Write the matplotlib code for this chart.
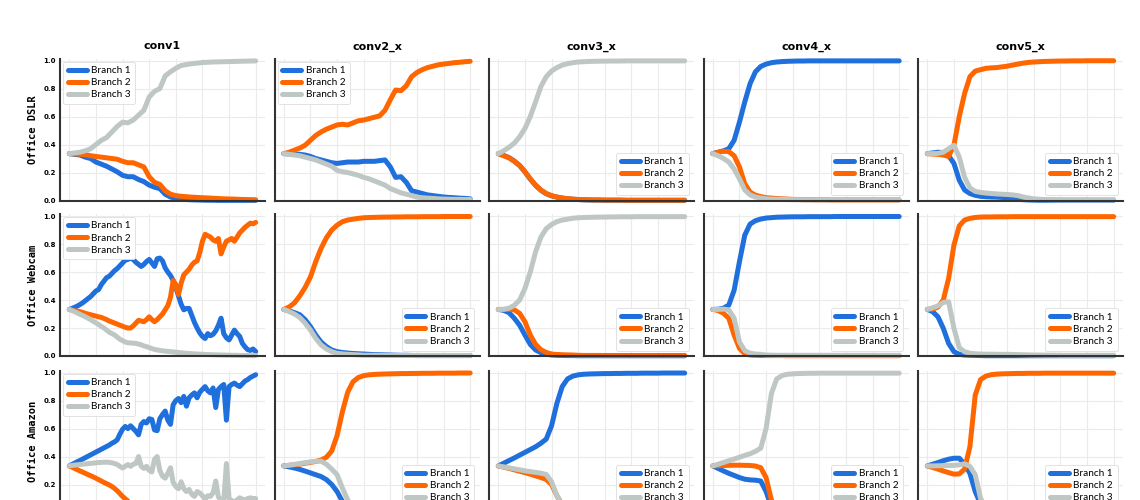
import numpy as np
import matplotlib
matplotlib.use("Agg")
import matplotlib.pyplot as plt

# branch weights over training.
# every series runs from x=0 to x=70, values sampled evenly along it.

# ---- Office DSLR ----
dslr_conv1_b1 = [0.335, 0.33, 0.325, 0.31, 0.30, 0.275, 0.26, 0.245, 0.225, 0.205,
                 0.18, 0.17, 0.17, 0.15, 0.135, 0.11, 0.095, 0.085, 0.045, 0.025,
                 0.015, 0.01, 0.007, 0.005, 0.004, 0.003, 0.002, 0.002, 0.001, 0.001,
                 0.001, 0.001, 0.001, 0.001, 0.001, 0.001]
dslr_conv1_b2 = [0.335, 0.333, 0.33, 0.328, 0.32, 0.315, 0.31, 0.305, 0.30, 0.295,
                 0.28, 0.27, 0.27, 0.255, 0.24, 0.17, 0.13, 0.115, 0.07, 0.045,
                 0.035, 0.03, 0.027, 0.024, 0.022, 0.02, 0.018, 0.016, 0.014, 0.012,
                 0.011, 0.01, 0.008, 0.007, 0.006, 0.005]
dslr_conv1_b3 = [0.335, 0.34, 0.345, 0.355, 0.37, 0.40, 0.43, 0.45, 0.49, 0.53,
                 0.56, 0.555, 0.575, 0.61, 0.645, 0.74, 0.78, 0.80, 0.89, 0.92,
                 0.945, 0.965, 0.972, 0.978, 0.982, 0.986, 0.988, 0.99, 0.991, 0.992,
                 0.993, 0.994, 0.995, 0.996, 0.997, 0.998]

dslr_conv2_b1 = [0.335, 0.333, 0.33, 0.33, 0.325, 0.315, 0.30, 0.29, 0.28, 0.27,
                 0.265, 0.27, 0.275, 0.275, 0.275, 0.28, 0.28, 0.28, 0.285, 0.29,
                 0.24, 0.165, 0.17, 0.13, 0.07, 0.06, 0.05, 0.04, 0.035, 0.03,
                 0.025, 0.022, 0.02, 0.017, 0.015, 0.012]
dslr_conv2_b2 = [0.335, 0.345, 0.36, 0.375, 0.395, 0.43, 0.465, 0.49, 0.51, 0.525,
                 0.54, 0.545, 0.54, 0.555, 0.57, 0.575, 0.585, 0.595, 0.605, 0.645,
                 0.72, 0.79, 0.785, 0.82, 0.885, 0.915, 0.935, 0.95, 0.96, 0.97,
                 0.975, 0.98, 0.985, 0.988, 0.992, 0.995]
dslr_conv2_b3 = [0.335, 0.33, 0.325, 0.32, 0.31, 0.30, 0.29, 0.275, 0.26, 0.245,
                 0.215, 0.205, 0.20, 0.19, 0.18, 0.165, 0.155, 0.14, 0.125, 0.11,
                 0.085, 0.07, 0.055, 0.045, 0.035, 0.025, 0.02, 0.017, 0.015, 0.012,
                 0.01, 0.009, 0.008, 0.008, 0.007, 0.007]

dslr_conv3_b1 = [0.335, 0.322, 0.307, 0.282, 0.25, 0.205, 0.153, 0.108, 0.073, 0.048,
                 0.033, 0.024, 0.017, 0.012, 0.009, 0.007, 0.005, 0.004, 0.003, 0.003,
                 0.002, 0.002, 0.002, 0.002, 0.001, 0.001, 0.001, 0.001, 0.001, 0.001,
                 0.001, 0.001, 0.001, 0.001, 0.001, 0.001]
dslr_conv3_b2 = [0.335, 0.32, 0.305, 0.28, 0.25, 0.205, 0.155, 0.11, 0.075, 0.05,
                 0.035, 0.025, 0.018, 0.013, 0.01, 0.007, 0.006, 0.005, 0.004, 0.004,
                 0.003, 0.003, 0.003, 0.003, 0.002, 0.002, 0.002, 0.002, 0.002, 0.002,
                 0.002, 0.002, 0.002, 0.002, 0.002, 0.002]
dslr_conv3_b3 = [0.335, 0.355, 0.38, 0.41, 0.455, 0.515, 0.60, 0.705, 0.815, 0.885,
                 0.925, 0.95, 0.968, 0.978, 0.985, 0.99, 0.992, 0.994, 0.995, 0.996,
                 0.996, 0.997, 0.997, 0.997, 0.998, 0.998, 0.998, 0.998, 0.998, 0.998,
                 0.998, 0.998, 0.998, 0.998, 0.998, 0.998]

dslr_conv4_b1 = [0.335, 0.345, 0.355, 0.37, 0.43, 0.56, 0.705, 0.835, 0.92, 0.958,
                 0.975, 0.985, 0.99, 0.993, 0.995, 0.996, 0.997, 0.997, 0.998, 0.998,
                 0.998, 0.998, 0.998, 0.998, 0.998, 0.998, 0.998, 0.998, 0.998, 0.998,
                 0.998, 0.998, 0.998, 0.998, 0.998, 0.998]
dslr_conv4_b2 = [0.335, 0.345, 0.352, 0.35, 0.32, 0.24, 0.12, 0.06, 0.038, 0.028,
                 0.02, 0.017, 0.014, 0.012, 0.01, 0.008, 0.007, 0.006, 0.006, 0.005,
                 0.005, 0.005, 0.004, 0.004, 0.004, 0.004, 0.004, 0.004, 0.004, 0.004,
                 0.004, 0.004, 0.004, 0.004, 0.004, 0.004]
dslr_conv4_b3 = [0.335, 0.32, 0.30, 0.275, 0.225, 0.155, 0.075, 0.04, 0.025, 0.018,
                 0.012, 0.01, 0.009, 0.008, 0.007, 0.006, 0.006, 0.005, 0.005, 0.005,
                 0.005, 0.005, 0.005, 0.005, 0.005, 0.005, 0.005, 0.005, 0.005, 0.005,
                 0.005, 0.005, 0.005, 0.005, 0.005, 0.005]

dslr_conv5_b1 = [0.335, 0.34, 0.345, 0.343, 0.32, 0.265, 0.145, 0.075, 0.05, 0.037,
                 0.03, 0.027, 0.025, 0.024, 0.022, 0.02, 0.015, 0.009, 0.006, 0.004,
                 0.003, 0.002, 0.002, 0.002, 0.002, 0.002, 0.002, 0.002, 0.002, 0.002,
                 0.002, 0.002, 0.002, 0.002, 0.002, 0.002]
dslr_conv5_b2 = [0.335, 0.332, 0.33, 0.325, 0.315, 0.395, 0.60, 0.765, 0.885, 0.925,
                 0.935, 0.945, 0.948, 0.95, 0.955, 0.96, 0.968, 0.975, 0.982, 0.987,
                 0.99, 0.992, 0.994, 0.995, 0.996, 0.997, 0.997, 0.998, 0.998, 0.998,
                 0.999, 0.999, 0.999, 0.999, 0.999, 0.999]
dslr_conv5_b3 = [0.335, 0.335, 0.337, 0.345, 0.37, 0.395, 0.31, 0.165, 0.09, 0.065,
                 0.058, 0.053, 0.05, 0.047, 0.045, 0.043, 0.04, 0.035, 0.025, 0.018,
                 0.012, 0.009, 0.007, 0.006, 0.005, 0.004, 0.004, 0.004, 0.004, 0.004,
                 0.004, 0.004, 0.004, 0.004, 0.004, 0.004]

# ---- Office Webcam ----
webcam_conv1_b1 = [0.333, 0.34, 0.348, 0.357, 0.368, 0.38, 0.395, 0.41, 0.425, 0.445,
                   0.465, 0.475, 0.51, 0.535, 0.56, 0.57, 0.59, 0.61, 0.625, 0.645,
                   0.665, 0.685, 0.69, 0.70, 0.69, 0.67, 0.655, 0.64, 0.655, 0.675,
                   0.69, 0.665, 0.64, 0.695, 0.70, 0.68, 0.63, 0.60, 0.575, 0.54,
                   0.49, 0.43, 0.37, 0.33, 0.34, 0.34, 0.29, 0.24, 0.20, 0.165,
                   0.14, 0.125, 0.16, 0.145, 0.155, 0.18, 0.22, 0.27, 0.16, 0.13,
                   0.115, 0.15, 0.185, 0.16, 0.14, 0.09, 0.065, 0.045, 0.04, 0.05,
                   0.032]
webcam_conv1_b2 = [0.333, 0.328, 0.323, 0.32, 0.317, 0.312, 0.305, 0.30, 0.295, 0.29,
                   0.285, 0.28, 0.276, 0.268, 0.26, 0.25, 0.243, 0.235, 0.228, 0.22,
                   0.213, 0.205, 0.20, 0.20, 0.215, 0.235, 0.255, 0.25, 0.245, 0.26,
                   0.28, 0.26, 0.245, 0.26, 0.28, 0.30, 0.33, 0.36, 0.42, 0.54,
                   0.51, 0.44, 0.52, 0.58, 0.60, 0.62, 0.65, 0.67, 0.68, 0.74,
                   0.82, 0.87, 0.86, 0.85, 0.83, 0.82, 0.84, 0.73, 0.78, 0.82,
                   0.83, 0.84, 0.82, 0.85, 0.88, 0.90, 0.92, 0.935, 0.95, 0.945,
                   0.955]
webcam_conv1_b3 = [0.333, 0.325, 0.317, 0.308, 0.298, 0.29, 0.28, 0.27, 0.26, 0.248,
                   0.237, 0.225, 0.212, 0.20, 0.185, 0.17, 0.16, 0.15, 0.135, 0.12,
                   0.11, 0.10, 0.095, 0.093, 0.092, 0.09, 0.085, 0.08, 0.072, 0.067,
                   0.06, 0.053, 0.047, 0.043, 0.04, 0.037, 0.035, 0.033, 0.031, 0.029,
                   0.027, 0.025, 0.023, 0.021, 0.019, 0.018, 0.017, 0.015, 0.014, 0.013,
                   0.012, 0.011, 0.01, 0.01, 0.009, 0.008, 0.008, 0.007, 0.007, 0.006,
                   0.006, 0.005, 0.005, 0.005, 0.004, 0.004, 0.004, 0.003, 0.003, 0.003,
                   0.003]

webcam_conv2_b1 = [0.333, 0.322, 0.31, 0.295, 0.26, 0.21, 0.15, 0.10, 0.067, 0.043,
                   0.031, 0.025, 0.021, 0.018, 0.016, 0.014, 0.012, 0.01, 0.009, 0.008,
                   0.007, 0.006, 0.005, 0.005, 0.004, 0.003, 0.003, 0.003, 0.003, 0.003,
                   0.003, 0.003, 0.003, 0.003, 0.003, 0.003]
webcam_conv2_b2 = [0.333, 0.35, 0.38, 0.43, 0.49, 0.565, 0.675, 0.77, 0.845, 0.90,
                   0.935, 0.96, 0.972, 0.978, 0.984, 0.988, 0.99, 0.991, 0.992, 0.993,
                   0.993, 0.994, 0.994, 0.995, 0.995, 0.995, 0.996, 0.996, 0.996, 0.996,
                   0.997, 0.997, 0.997, 0.997, 0.997, 0.997]
webcam_conv2_b3 = [0.333, 0.318, 0.30, 0.275, 0.235, 0.186, 0.126, 0.079, 0.05, 0.031,
                   0.019, 0.015, 0.012, 0.01, 0.008, 0.005, 0.005, 0.005, 0.004, 0.004,
                   0.004, 0.004, 0.004, 0.004, 0.004, 0.004, 0.004, 0.004, 0.004, 0.004,
                   0.004, 0.004, 0.004, 0.004, 0.004, 0.004]

webcam_conv3_b1 = [0.333, 0.326, 0.31, 0.27, 0.22, 0.15, 0.083, 0.043, 0.024, 0.013,
                   0.007, 0.005, 0.004, 0.003, 0.003, 0.002, 0.002, 0.002, 0.002, 0.002,
                   0.002, 0.002, 0.002, 0.002, 0.002, 0.002, 0.002, 0.002, 0.002, 0.002,
                   0.002, 0.002, 0.002, 0.002, 0.002, 0.002]
webcam_conv3_b2 = [0.333, 0.332, 0.334, 0.33, 0.305, 0.245, 0.15, 0.083, 0.045, 0.025,
                   0.014, 0.011, 0.009, 0.008, 0.007, 0.005, 0.004, 0.004, 0.004, 0.004,
                   0.003, 0.003, 0.003, 0.003, 0.003, 0.003, 0.003, 0.003, 0.003, 0.003,
                   0.003, 0.003, 0.003, 0.003, 0.003, 0.003]
webcam_conv3_b3 = [0.333, 0.334, 0.342, 0.362, 0.40, 0.483, 0.60, 0.745, 0.85, 0.91,
                   0.94, 0.96, 0.972, 0.978, 0.985, 0.988, 0.99, 0.991, 0.992, 0.993,
                   0.993, 0.994, 0.994, 0.995, 0.995, 0.995, 0.996, 0.996, 0.996, 0.996,
                   0.996, 0.996, 0.996, 0.996, 0.996, 0.996]

webcam_conv4_b1 = [0.333, 0.334, 0.342, 0.364, 0.47, 0.674, 0.864, 0.943, 0.967, 0.979,
                   0.986, 0.989, 0.992, 0.993, 0.994, 0.995, 0.995, 0.995, 0.996, 0.996,
                   0.996, 0.996, 0.996, 0.997, 0.997, 0.997, 0.997, 0.997, 0.997, 0.997,
                   0.997, 0.997, 0.997, 0.997, 0.997, 0.997]
webcam_conv4_b2 = [0.333, 0.325, 0.305, 0.27, 0.15, 0.055, 0.017, 0.007, 0.005, 0.004,
                   0.003, 0.003, 0.003, 0.003, 0.002, 0.002, 0.002, 0.002, 0.002, 0.002,
                   0.002, 0.002, 0.002, 0.002, 0.002, 0.002, 0.002, 0.002, 0.002, 0.002,
                   0.002, 0.002, 0.002, 0.002, 0.002, 0.002]
webcam_conv4_b3 = [0.333, 0.333, 0.335, 0.33, 0.27, 0.10, 0.038, 0.02, 0.014, 0.012,
                   0.007, 0.006, 0.005, 0.005, 0.005, 0.005, 0.005, 0.005, 0.005, 0.005,
                   0.005, 0.005, 0.005, 0.005, 0.005, 0.005, 0.005, 0.005, 0.005, 0.005,
                   0.005, 0.005, 0.005, 0.005, 0.005, 0.005]

webcam_conv5_b1 = [0.333, 0.317, 0.28, 0.198, 0.09, 0.031, 0.012, 0.007, 0.005, 0.004,
                   0.003, 0.002, 0.002, 0.002, 0.002, 0.002, 0.002, 0.002, 0.002, 0.002,
                   0.002, 0.002, 0.002, 0.002, 0.002, 0.002, 0.002, 0.002, 0.002, 0.002,
                   0.002, 0.002, 0.002, 0.002, 0.002, 0.002]
webcam_conv5_b2 = [0.333, 0.335, 0.35, 0.40, 0.555, 0.793, 0.93, 0.972, 0.984, 0.99,
                   0.993, 0.994, 0.994, 0.995, 0.995, 0.995, 0.996, 0.996, 0.996, 0.996,
                   0.996, 0.996, 0.996, 0.996, 0.996, 0.996, 0.996, 0.996, 0.996, 0.996,
                   0.996, 0.996, 0.996, 0.996, 0.996, 0.996]
webcam_conv5_b3 = [0.333, 0.345, 0.358, 0.383, 0.388, 0.198, 0.06, 0.03, 0.02, 0.016,
                   0.014, 0.013, 0.013, 0.012, 0.012, 0.012, 0.011, 0.01, 0.009, 0.008,
                   0.007, 0.007, 0.006, 0.006, 0.006, 0.005, 0.005, 0.005, 0.005, 0.005,
                   0.005, 0.005, 0.005, 0.005, 0.005, 0.005]

# ---- Office Amazon ----
amazon_conv1_b1 = [0.333, 0.343, 0.353, 0.363, 0.372, 0.382, 0.392, 0.402, 0.412, 0.422,
                   0.432, 0.442, 0.452, 0.462, 0.472, 0.482, 0.495, 0.505, 0.52, 0.56,
                   0.595, 0.615, 0.60, 0.62, 0.60, 0.58, 0.555, 0.63, 0.65, 0.64,
                   0.67, 0.665, 0.59, 0.585, 0.67, 0.70, 0.725, 0.66, 0.63, 0.77,
                   0.80, 0.815, 0.785, 0.83, 0.76, 0.82, 0.84, 0.855, 0.82, 0.86,
                   0.88, 0.90, 0.87, 0.855, 0.89, 0.75, 0.88, 0.90, 0.915, 0.66,
                   0.90, 0.915, 0.925, 0.91, 0.90, 0.92, 0.94, 0.95, 0.965, 0.975,
                   0.985]
amazon_conv1_b2 = [0.333, 0.324, 0.315, 0.306, 0.297, 0.289, 0.28, 0.271, 0.263, 0.254,
                   0.245, 0.235, 0.225, 0.215, 0.206, 0.197, 0.186, 0.172, 0.155, 0.135,
                   0.115, 0.098, 0.082, 0.072, 0.064, 0.057, 0.052, 0.047, 0.043, 0.04,
                   0.037, 0.035, 0.033, 0.031, 0.029, 0.027, 0.026, 0.025, 0.024, 0.022,
                   0.021, 0.02, 0.019, 0.018, 0.017, 0.016, 0.015, 0.015, 0.014, 0.013,
                   0.013, 0.012, 0.012, 0.011, 0.011, 0.01, 0.01, 0.01, 0.009, 0.009,
                   0.009, 0.008, 0.008, 0.008, 0.007, 0.007, 0.007, 0.006, 0.006, 0.006,
                   0.005]
amazon_conv1_b3 = [0.333, 0.336, 0.339, 0.341, 0.343, 0.345, 0.347, 0.349, 0.351, 0.353,
                   0.355, 0.357, 0.358, 0.359, 0.36, 0.358, 0.355, 0.35, 0.343, 0.33,
                   0.318, 0.33, 0.343, 0.33, 0.345, 0.35, 0.40, 0.33, 0.315, 0.33,
                   0.30, 0.29, 0.38, 0.40, 0.30, 0.26, 0.245, 0.28, 0.32, 0.215,
                   0.185, 0.17, 0.22, 0.17, 0.15, 0.165, 0.13, 0.115, 0.15, 0.14,
                   0.12, 0.095, 0.12, 0.115, 0.14, 0.225, 0.11, 0.09, 0.08, 0.35,
                   0.10, 0.085, 0.075, 0.09, 0.105, 0.095, 0.09, 0.10, 0.105, 0.10,
                   0.10]

amazon_conv2_b1 = [0.333, 0.326, 0.318, 0.308, 0.296, 0.283, 0.27, 0.257, 0.235, 0.20,
                   0.15, 0.08, 0.035, 0.018, 0.01, 0.007, 0.005, 0.004, 0.003, 0.003,
                   0.003, 0.003, 0.003, 0.003, 0.003, 0.003, 0.003, 0.003, 0.003, 0.003,
                   0.003, 0.003, 0.003, 0.003, 0.003, 0.003]
amazon_conv2_b2 = [0.333, 0.337, 0.341, 0.346, 0.352, 0.358, 0.365, 0.375, 0.395, 0.44,
                   0.55, 0.72, 0.86, 0.935, 0.965, 0.978, 0.984, 0.987, 0.989, 0.99,
                   0.991, 0.992, 0.993, 0.993, 0.994, 0.994, 0.995, 0.995, 0.995, 0.996,
                   0.996, 0.996, 0.996, 0.997, 0.997, 0.997]
amazon_conv2_b3 = [0.333, 0.338, 0.344, 0.35, 0.356, 0.362, 0.366, 0.367, 0.345, 0.31,
                   0.27, 0.175, 0.09, 0.04, 0.02, 0.013, 0.01, 0.008, 0.007, 0.006,
                   0.006, 0.005, 0.005, 0.005, 0.005, 0.005, 0.005, 0.005, 0.005, 0.005,
                   0.005, 0.005, 0.005, 0.005, 0.005, 0.005]

amazon_conv3_b1 = [0.333, 0.352, 0.371, 0.39, 0.41, 0.43, 0.45, 0.47, 0.495, 0.525,
                   0.62, 0.78, 0.90, 0.955, 0.975, 0.984, 0.988, 0.99, 0.991, 0.992,
                   0.993, 0.993, 0.994, 0.994, 0.995, 0.995, 0.995, 0.996, 0.996, 0.996,
                   0.996, 0.997, 0.997, 0.997, 0.997, 0.997]
amazon_conv3_b2 = [0.333, 0.324, 0.315, 0.305, 0.295, 0.285, 0.274, 0.262, 0.25, 0.236,
                   0.20, 0.12, 0.055, 0.025, 0.013, 0.008, 0.006, 0.005, 0.004, 0.003,
                   0.003, 0.003, 0.003, 0.003, 0.003, 0.003, 0.003, 0.003, 0.003, 0.003,
                   0.003, 0.003, 0.003, 0.003, 0.003, 0.003]
amazon_conv3_b3 = [0.333, 0.326, 0.319, 0.312, 0.305, 0.298, 0.292, 0.287, 0.281, 0.272,
                   0.22, 0.12, 0.05, 0.025, 0.015, 0.01, 0.008, 0.007, 0.006, 0.005,
                   0.005, 0.005, 0.005, 0.005, 0.005, 0.005, 0.005, 0.005, 0.005, 0.005,
                   0.005, 0.005, 0.005, 0.005, 0.005, 0.005]

amazon_conv4_b1 = [0.333, 0.315, 0.297, 0.28, 0.265, 0.25, 0.238, 0.233, 0.231, 0.225,
                   0.15, 0.04, 0.015, 0.008, 0.005, 0.004, 0.003, 0.003, 0.003, 0.003,
                   0.003, 0.003, 0.003, 0.003, 0.003, 0.003, 0.003, 0.003, 0.003, 0.003,
                   0.003, 0.003, 0.003, 0.003, 0.003, 0.003]
amazon_conv4_b2 = [0.333, 0.335, 0.336, 0.337, 0.338, 0.338, 0.337, 0.336, 0.332, 0.32,
                   0.25, 0.09, 0.03, 0.013, 0.007, 0.005, 0.004, 0.003, 0.003, 0.003,
                   0.003, 0.003, 0.003, 0.003, 0.003, 0.003, 0.003, 0.003, 0.003, 0.003,
                   0.003, 0.003, 0.003, 0.003, 0.003, 0.003]
amazon_conv4_b3 = [0.333, 0.345, 0.357, 0.37, 0.382, 0.395, 0.408, 0.42, 0.437, 0.46,
                   0.60, 0.85, 0.955, 0.979, 0.988, 0.991, 0.993, 0.994, 0.995, 0.995,
                   0.996, 0.996, 0.996, 0.996, 0.996, 0.996, 0.996, 0.996, 0.996, 0.996,
                   0.996, 0.996, 0.996, 0.996, 0.996, 0.996]

amazon_conv5_b1 = [0.333, 0.345, 0.357, 0.37, 0.381, 0.388, 0.388, 0.345, 0.28, 0.15,
                   0.06, 0.025, 0.012, 0.008, 0.005, 0.004, 0.003, 0.003, 0.003, 0.003,
                   0.003, 0.003, 0.003, 0.003, 0.003, 0.003, 0.003, 0.003, 0.003, 0.003,
                   0.003, 0.003, 0.003, 0.003, 0.003, 0.003]
amazon_conv5_b2 = [0.333, 0.322, 0.31, 0.297, 0.285, 0.274, 0.276, 0.31, 0.47, 0.84,
                   0.95, 0.975, 0.985, 0.989, 0.991, 0.992, 0.993, 0.994, 0.994, 0.995,
                   0.995, 0.995, 0.996, 0.996, 0.996, 0.996, 0.996, 0.996, 0.996, 0.996,
                   0.996, 0.996, 0.996, 0.996, 0.996, 0.996]
amazon_conv5_b3 = [0.333, 0.333, 0.334, 0.335, 0.336, 0.337, 0.34, 0.348, 0.33, 0.27,
                   0.10, 0.035, 0.015, 0.01, 0.008, 0.006, 0.005, 0.005, 0.005, 0.005,
                   0.005, 0.005, 0.005, 0.005, 0.005, 0.005, 0.005, 0.005, 0.005, 0.005,
                   0.005, 0.005, 0.005, 0.005, 0.005, 0.005]

row_names = ["Office DSLR", "Office Webcam", "Office Amazon"]
col_names = ["conv1", "conv2_x", "conv3_x", "conv4_x", "conv5_x"]
branch_names = ["Branch 1", "Branch 2", "Branch 3"]
colors = ["#1f6fdc", "#ff6600", "#bfc7c4"]

panels = [
    [(dslr_conv1_b1, dslr_conv1_b2, dslr_conv1_b3),
     (dslr_conv2_b1, dslr_conv2_b2, dslr_conv2_b3),
     (dslr_conv3_b1, dslr_conv3_b2, dslr_conv3_b3),
     (dslr_conv4_b1, dslr_conv4_b2, dslr_conv4_b3),
     (dslr_conv5_b1, dslr_conv5_b2, dslr_conv5_b3)],
    [(webcam_conv1_b1, webcam_conv1_b2, webcam_conv1_b3),
     (webcam_conv2_b1, webcam_conv2_b2, webcam_conv2_b3),
     (webcam_conv3_b1, webcam_conv3_b2, webcam_conv3_b3),
     (webcam_conv4_b1, webcam_conv4_b2, webcam_conv4_b3),
     (webcam_conv5_b1, webcam_conv5_b2, webcam_conv5_b3)],
    [(amazon_conv1_b1, amazon_conv1_b2, amazon_conv1_b3),
     (amazon_conv2_b1, amazon_conv2_b2, amazon_conv2_b3),
     (amazon_conv3_b1, amazon_conv3_b2, amazon_conv3_b3),
     (amazon_conv4_b1, amazon_conv4_b2, amazon_conv4_b3),
     (amazon_conv5_b1, amazon_conv5_b2, amazon_conv5_b3)],
]
legend_loc = [
    ["upper left", "upper left", "lower right", "lower right", "lower right"],
    ["upper left", "lower right", "lower right", "lower right", "lower right"],
    ["upper left", "lower right", "lower right", "lower right", "lower right"],
]

# layout in pixels (figure is 1140 x 500, third row runs off the bottom)
W, H = 1140.0, 500.0
lefts = [60, 274.5, 489, 703.5, 918]
bottoms = [200.5, 356, 512.5]
ax_w, ax_h = 205, 142

fig = plt.figure(figsize=(11.4, 5), dpi=100)

for i in range(3):
    for j in range(5):
        ax = fig.add_axes([lefts[j] / W, (H - bottoms[i]) / H, ax_w / W, ax_h / H])
        for k in range(3):
            y = np.array(panels[i][j][k])
            x = np.linspace(0, 70, len(y))
            ax.plot(x, y, color=colors[k], lw=3.6, solid_capstyle="round",
                    label=branch_names[k], clip_on=False)
        ax.set_ylim(0, 1.015)
        ax.set_xticks(np.arange(0, 71, 10))
        ax.set_yticks([0, 0.2, 0.4, 0.6, 0.8, 1.0])
        ax.grid(True, color="#ebebeb", lw=0.8)
        ax.set_axisbelow(True)
        ax.tick_params(length=0, labelbottom=False, labelsize=5, pad=3)
        for lab in ax.get_yticklabels():
            lab.set_fontweight("bold")
        ax.spines["top"].set_visible(False)
        ax.spines["right"].set_visible(False)
        ax.spines["left"].set_color("#333333")
        ax.spines["bottom"].set_color("#333333")
        ax.spines["left"].set_linewidth(1.5)
        ax.spines["bottom"].set_linewidth(1.5)
        if j == 0:
            ax.set_ylabel(row_names[i], family="DejaVu Sans Mono", fontweight="bold",
                          fontsize=7.5, labelpad=4)
        else:
            ax.tick_params(labelleft=False)
        if i == 0:
            ax.set_title(col_names[j], fontsize=8, fontweight="bold", pad=6.5)
        pad = 0.3 if legend_loc[i][j] == "upper left" else 0.55
        leg = ax.legend(loc=legend_loc[i][j], prop={"family": "Lato", "size": 7.2},
                        handlelength=1.9, handletextpad=0.45, labelspacing=0.32,
                        borderpad=0.45, borderaxespad=pad, fancybox=True, framealpha=1)
        leg.get_frame().set_edgecolor("#dddddd")
        leg.get_frame().set_linewidth(0.6)

fig.savefig("out.png", dpi=100)
